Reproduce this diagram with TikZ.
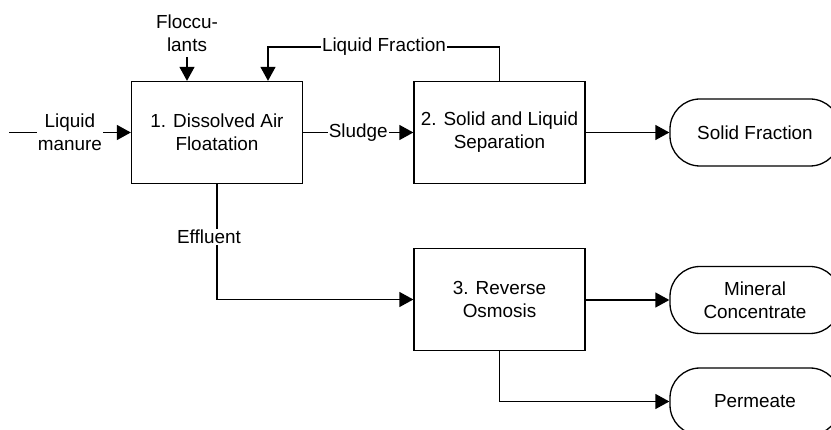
\documentclass[tikz,border=0pt]{standalone}
\usepackage{fontspec}
\setmainfont{Liberation Sans}
\usetikzlibrary{arrows.meta}
\tikzset{
  flow/.style={line width=1.3pt, -{Triangle[length=14pt,width=15pt]}},
  plain/.style={line width=1.3pt},
  procbox/.style={draw, line width=1.3pt, minimum width=171pt, minimum height=102pt,
    inner sep=0pt, align=center},
  endcap/.style={draw, line width=1.3pt, minimum width=170pt, minimum height=67pt,
    rounded corners=30pt, inner sep=0pt, align=center},
  lbl/.style={fill=white, inner sep=1pt, align=center},
}
\begin{document}
\begin{tikzpicture}[x=1pt, y=-1pt, font=\fontsize{18.9}{23}\selectfont]
\useasboundingbox (0,0) rectangle (831,430);
\clip (0,0) rectangle (831,430);

% process steps
\node[procbox] (daf) at (217,132.5) {1. Dissolved Air\\Floatation};
\node[procbox] (sep) at (499.5,132.5) {2. Solid and Liquid\\Separation};
\node[procbox] (ro)  at (499.5,299.5) {3. Reverse\\Osmosis};

% products
\node[endcap] (solid) at (755,132.5) {Solid Fraction};
\node[endcap] (mineral) at (755,300) {Mineral\\Concentrate};
\node[endcap] (perm) at (755,401.5) {Permeate};

% feeds
\coordinate (manurein) at (9,132.5);
\draw[flow] (manurein) -- (daf.west)
  node[lbl, pos=0.5] {Liquid\\manure};

\node[align=center, inner sep=0pt] (floc) at (187,33) {Floccu-\\lants};
\coordinate (flocin) at (187,57);
\draw[flow] (flocin) -- (flocin |- daf.north);

% sludge to separation
\draw[flow] (daf.east) -- (sep.west) node[lbl, midway] {Sludge};

% liquid fraction returned to flotation
\coordinate (lfturn) at (268,47);
\draw[flow] (sep.north) |- (lfturn) -- (lfturn |- daf.north);
\node[lbl] (lflabel) at (384,47) {Liquid Fraction};

% effluent to reverse osmosis
\draw[flow] (daf.south) |- (ro.west);
\node[lbl] (efflabel) at (209,237) {Effluent};

% outputs
\draw[flow] (sep.east) -- (solid.west);
\draw[flow] (ro.east |- mineral.west) -- (mineral.west);
\draw[flow] (ro.south) |- (perm.west);
\end{tikzpicture}
\end{document}
